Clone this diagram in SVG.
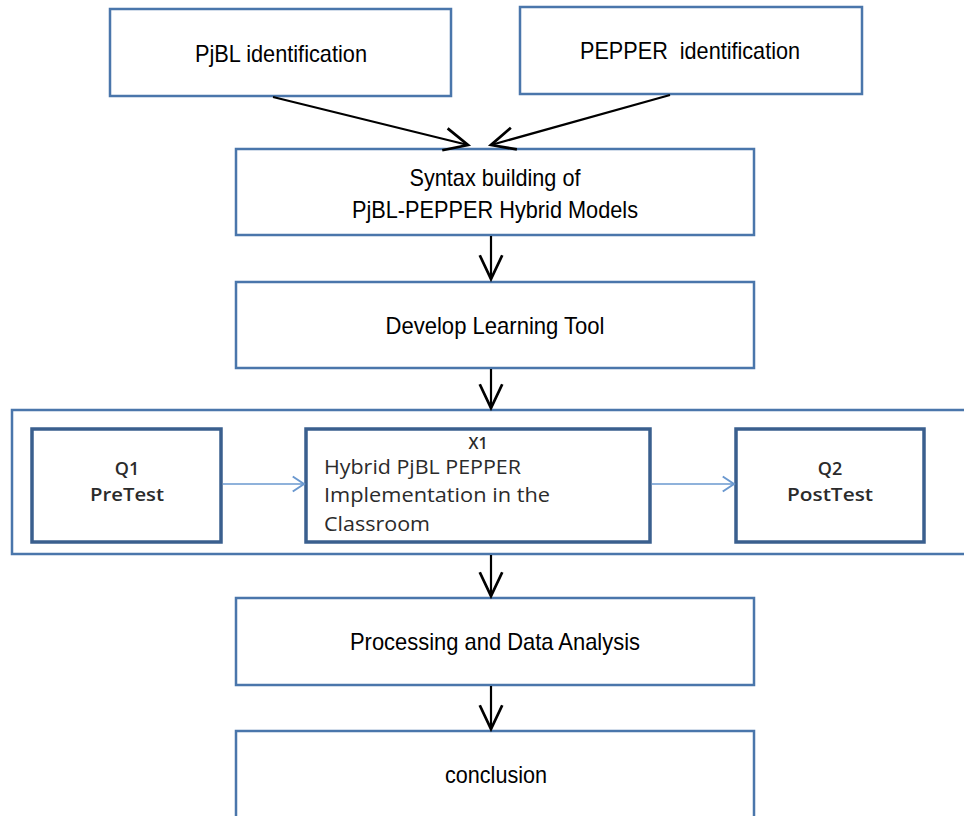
<svg xmlns="http://www.w3.org/2000/svg" width="964" height="816" viewBox="0 0 964 816">
  <defs>
    <style>
      .box { fill: #ffffff; stroke: #4a76ab; stroke-width: 2.5; }
      .ibox { fill: #ffffff; stroke: #3a5f8e; stroke-width: 3.5; }
      .lbl { font-family: "Liberation Sans", Arial, sans-serif; font-size: 24px; fill: #000000; text-anchor: middle; }
      .cal { font-family: "Open Sans", "Liberation Sans", sans-serif; fill: #2b2b2b; }
      .q { font-size: 18px; font-weight: 600; text-anchor: middle; }
      .conn { stroke: #000000; stroke-width: 2.2; fill: none; }
      .bconn { stroke: #6a98cf; stroke-width: 1.6; fill: none; }
    </style>
    <marker id="ah" markerUnits="userSpaceOnUse" orient="auto" refX="0" refY="0" markerWidth="30" markerHeight="30" viewBox="-20 -12 24 24" overflow="visible">
      <path d="M-19,-9 L0,0 L-19,9" fill="none" stroke="#000000" stroke-width="2.2"/>
    </marker>
    <marker id="bah" markerUnits="userSpaceOnUse" orient="auto" refX="0" refY="0" markerWidth="20" markerHeight="20" viewBox="-12 -8 14 16" overflow="visible">
      <path d="M-9,-6 L0,0 L-9,6" fill="none" stroke="#6a98cf" stroke-width="1.6"/>
    </marker>
  </defs>
  <rect width="964" height="816" fill="#ffffff"/>

  <g id="container">
    <rect x="12" y="410" width="962" height="144" fill="none" stroke="#4a76ab" stroke-width="2.5"/>
  </g>

  <g id="pjbl">
    <rect class="box" x="110" y="9" width="341" height="87"/>
    <text class="lbl" x="281" y="62" textLength="172" lengthAdjust="spacingAndGlyphs">PjBL identification</text>
  </g>
  <g id="pepper">
    <rect class="box" x="520" y="7" width="342" height="87"/>
    <text class="lbl" x="690" y="59" textLength="220" lengthAdjust="spacingAndGlyphs" xml:space="preserve">PEPPER  identification</text>
  </g>
  <g id="syntax">
    <rect class="box" x="236" y="149" width="518" height="86"/>
    <text class="lbl" x="495" y="186" textLength="171" lengthAdjust="spacingAndGlyphs">Syntax building of</text>
    <text class="lbl" x="495" y="218" textLength="286" lengthAdjust="spacingAndGlyphs">PjBL-PEPPER Hybrid Models</text>
  </g>
  <g id="develop">
    <rect class="box" x="236" y="282" width="518" height="86"/>
    <text class="lbl" x="495" y="334" textLength="219" lengthAdjust="spacingAndGlyphs">Develop Learning Tool</text>
  </g>
  <g id="q1">
    <rect class="ibox" x="32" y="429" width="189" height="113"/>
    <text class="cal q" x="127" y="475">Q1</text>
    <text class="cal q" x="127" y="501" textLength="74" lengthAdjust="spacingAndGlyphs">PreTest</text>
  </g>
  <g id="x1">
    <rect class="ibox" x="306" y="429" width="344" height="113"/>
    <text class="cal" x="478" y="449" font-size="16" font-weight="600" text-anchor="middle">X1</text>
    <text class="cal" x="324" y="474" font-size="20" font-weight="500" textLength="197" lengthAdjust="spacingAndGlyphs">Hybrid PjBL PEPPER</text>
    <text class="cal" x="324" y="502" font-size="20" font-weight="500" textLength="226" lengthAdjust="spacingAndGlyphs">Implementation in the</text>
    <text class="cal" x="324" y="531" font-size="20" font-weight="500" textLength="106" lengthAdjust="spacingAndGlyphs">Classroom</text>
  </g>
  <g id="q2">
    <rect class="ibox" x="736" y="429" width="188" height="113"/>
    <text class="cal q" x="830" y="475">Q2</text>
    <text class="cal q" x="830" y="501" textLength="86" lengthAdjust="spacingAndGlyphs">PostTest</text>
  </g>
  <g id="processing">
    <rect class="box" x="236" y="598" width="518" height="87"/>
    <text class="lbl" x="495" y="650" textLength="290" lengthAdjust="spacingAndGlyphs">Processing and Data Analysis</text>
  </g>
  <g id="conclusion">
    <rect class="box" x="236" y="731" width="518" height="100"/>
    <text class="lbl" x="496" y="783" textLength="102" lengthAdjust="spacingAndGlyphs">conclusion</text>
  </g>

  <g id="connectors">
    <line class="conn" x1="273" y1="97" x2="468" y2="145" marker-end="url(#ah)"/>
    <line class="conn" x1="670" y1="95" x2="491" y2="145" marker-end="url(#ah)"/>
    <line class="conn" x1="491" y1="236" x2="491" y2="279" marker-end="url(#ah)"/>
    <line class="conn" x1="491" y1="369" x2="491" y2="408" marker-end="url(#ah)"/>
    <line class="conn" x1="491" y1="555" x2="491" y2="596" marker-end="url(#ah)"/>
    <line class="conn" x1="491" y1="686" x2="491" y2="729" marker-end="url(#ah)"/>
    <line class="bconn" x1="223" y1="484" x2="304" y2="484" marker-end="url(#bah)"/>
    <line class="bconn" x1="652" y1="484" x2="734" y2="484" marker-end="url(#bah)"/>
  </g>
</svg>
